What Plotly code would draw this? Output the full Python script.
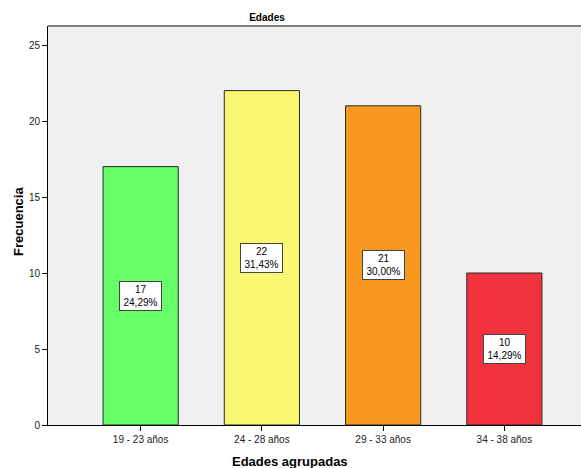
import plotly.graph_objects as go

categories = ["19 - 23 años", "24 - 28 años", "29 - 33 años", "34 - 38 años"]
frecuencia = [17, 22, 21, 10]
porcentaje = ["24,29%", "31,43%", "30,00%", "14,29%"]
colores = ["#66FF66", "#FAF873", "#F8991F", "#F0333C"]

W, H = 581, 468
L, R, T, B = 48, 0, 26, 43

fig = go.Figure()
fig.add_trace(go.Bar(
    x=list(range(len(categories))), y=frecuencia,
    marker=dict(color=colores, line=dict(color="#2a2a2a", width=1)),
    width=0.62, hoverinfo="skip"
))

for i, (v, p) in enumerate(zip(frecuencia, porcentaje)):
    fig.add_annotation(
        x=i, y=v / 2, xref="x", yref="y",
        text=f"{v}<br>{p}", showarrow=False,
        font=dict(family="Liberation Sans, Arial", size=10, color="#000000"),
        bgcolor="white", bordercolor="#444444", borderwidth=1, borderpad=2,
        width=37, align="center"
    )

# axis titles placed as annotations in paper coords
fig.add_annotation(
    x=(290 - L) / (W - L - R), y=-(461 - (H - B)) / (H - T - B), xref="paper", yref="paper",
    text="<b>Edades agrupadas</b>", showarrow=False, xanchor="center", yanchor="middle",
    font=dict(family="Liberation Sans, Arial", size=13, color="#000000"))
fig.add_annotation(
    x=-(L - 18) / (W - L - R), y=(H - B - 222) / (H - T - B), xref="paper", yref="paper",
    text="<b>Frecuencia</b>", showarrow=False, textangle=-90, xanchor="center", yanchor="middle",
    font=dict(family="Liberation Sans, Arial", size=13, color="#000000"))

fig.add_shape(type="line", xref="paper", yref="paper", x0=0, x1=1, y0=1, y1=1,
              line=dict(color="#808080", width=2))

fig.update_layout(
    width=W, height=H,
    margin=dict(l=L, r=R, t=T, b=B, autoexpand=False),
    paper_bgcolor="white", plot_bgcolor="#F0F0F0",
    showlegend=False,
    title=dict(text="<b>Edades</b>", x=267 / W, xanchor="center", y=1 - 17 / H, yanchor="middle",
               font=dict(family="Liberation Sans, Arial", size=10, color="#000000")),
    font=dict(family="Liberation Sans, Arial", size=10, color="#222222"),
)
fig.update_xaxes(
    tickmode="array", tickvals=list(range(len(categories))), ticktext=categories,
    range=[-0.764, 3.632], showline=True, linecolor="#000000", linewidth=1,
    ticks="outside", ticklen=5, tickcolor="#000000", showgrid=False, zeroline=False,
    tickfont=dict(size=10, color="#222222"), automargin=False,
)
fig.update_yaxes(
    range=[0, 26.25], tickvals=[0, 5, 10, 15, 20, 25],
    showline=True, linecolor="#000000", linewidth=1,
    ticks="outside", ticklen=5, tickcolor="#000000", showgrid=False, zeroline=False,
    tickfont=dict(size=10, color="#222222"), automargin=False,
)

fig.write_html("out.html", config={"displayModeBar": False},
               post_script="document.body.style.margin='0';document.body.style.overflow='hidden';")
